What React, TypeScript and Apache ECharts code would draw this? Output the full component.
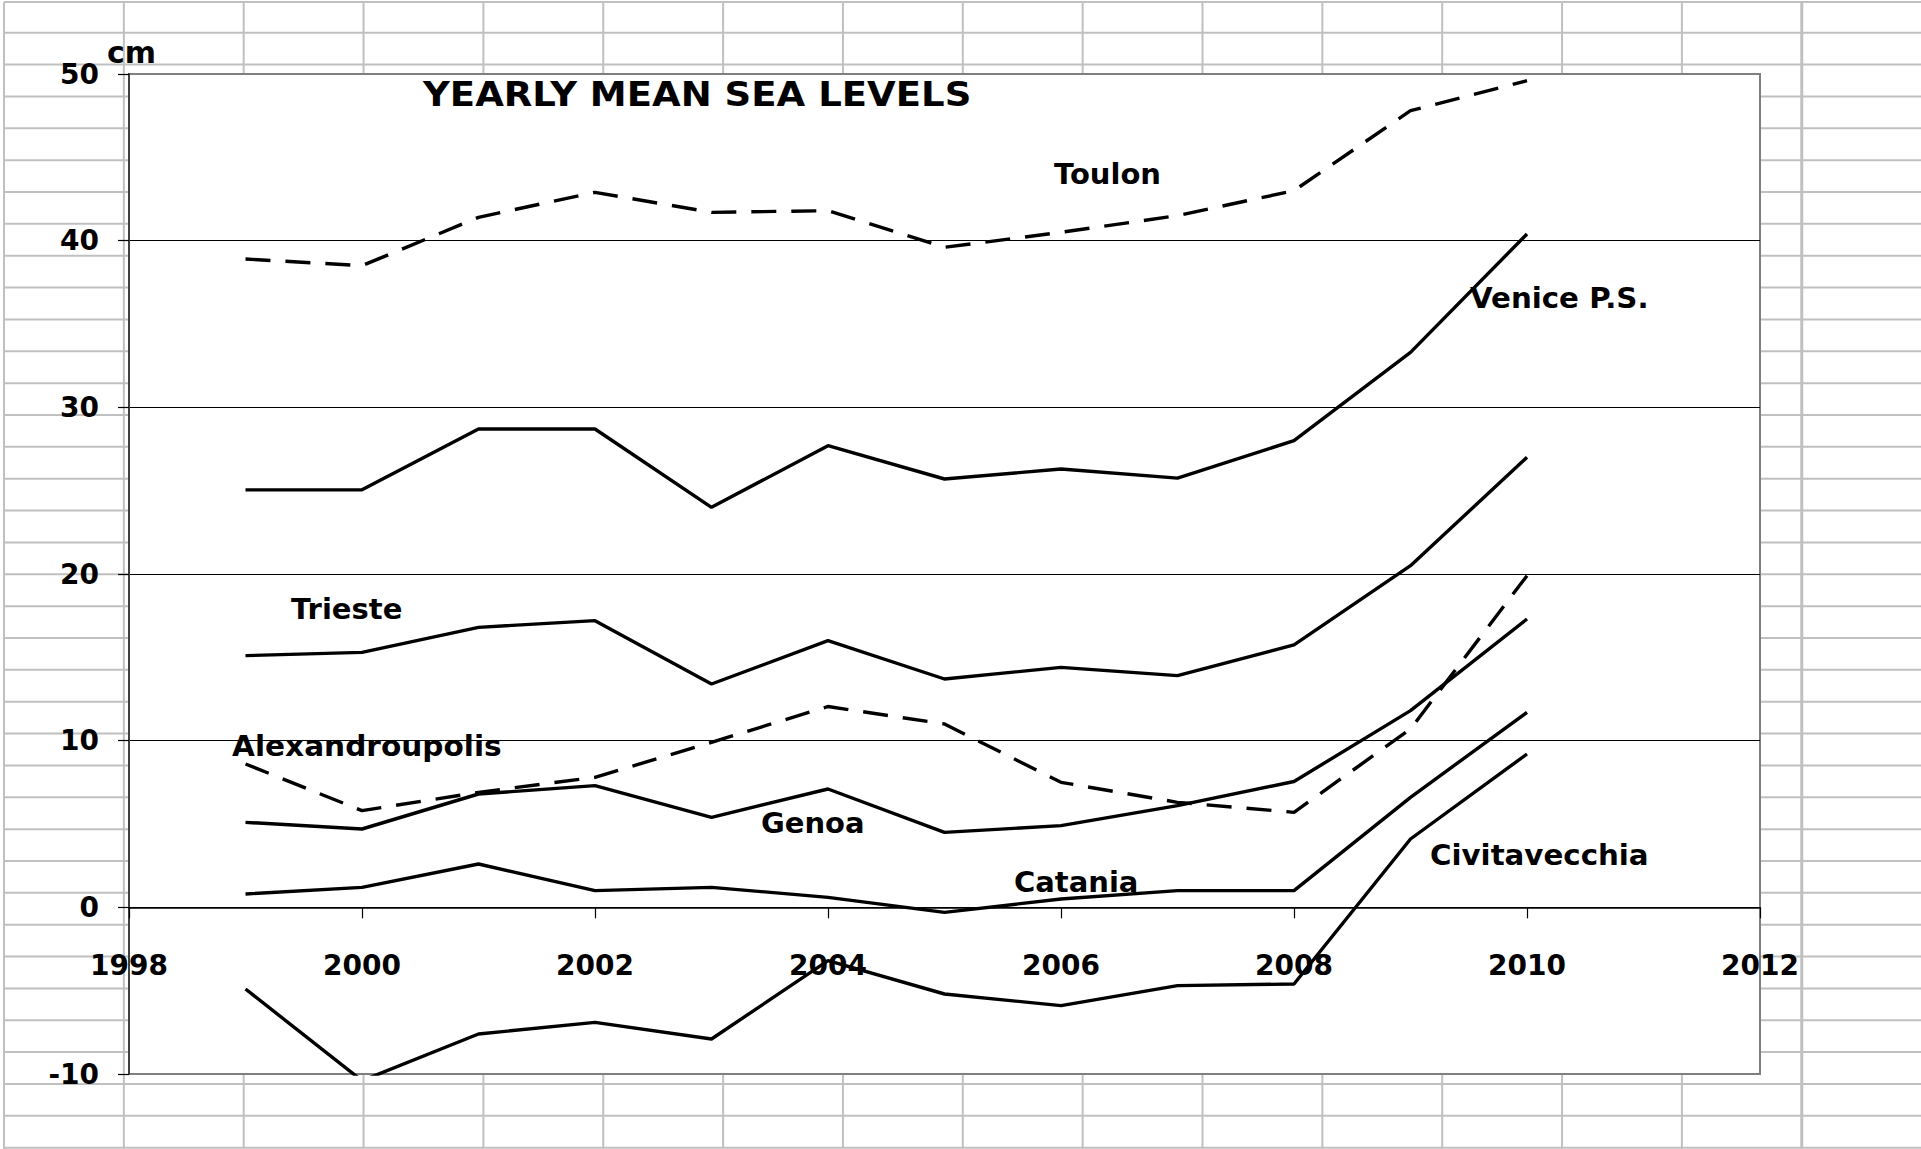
import React, { useEffect, useRef } from "react";
import * as echarts from "echarts";

// ---- data ----
const years = [1999, 2000, 2001, 2002, 2003, 2004, 2005, 2006, 2007, 2008, 2009, 2010];
const toulon = [38.9, 38.5, 41.4, 42.9, 41.7, 41.8, 39.6, 40.5, 41.5, 43.0, 47.8, 49.6];
const venice = [25.05, 25.05, 28.7, 28.7, 24.0, 27.7, 25.7, 26.3, 25.75, 28.0, 33.3, 40.4];
const trieste = [15.1, 15.3, 16.8, 17.2, 13.4, 16.0, 13.7, 14.4, 13.9, 15.75, 20.5, 27.0];
const alexandroupolis = [8.6, 5.8, 6.9, 7.8, 9.9, 12.05, 11.0, 7.5, 6.3, 5.7, 10.7, 19.9];
const genoa = [5.1, 4.7, 6.8, 7.3, 5.4, 7.1, 4.5, 4.9, 6.1, 7.55, 11.8, 17.3];
const catania = [0.8, 1.2, 2.6, 1.0, 1.2, 0.6, -0.3, 0.5, 1.0, 1.0, 6.6, 11.7];
const civitavecchia = [-4.9, -10.4, -7.6, -6.9, -7.9, -3.2, -5.2, -5.9, -4.7, -4.6, 4.1, 9.2];

const xMin = 1998, xMax = 2012, xStep = 2;
const yMin = -10, yMax = 50, yStep = 10;

const seriesDefs = [
  { name: "Toulon", values: toulon, dashed: true },
  { name: "Venice P.S.", values: venice, dashed: false },
  { name: "Trieste", values: trieste, dashed: false },
  { name: "Alexandroupolis", values: alexandroupolis, dashed: true },
  { name: "Genoa", values: genoa, dashed: false },
  { name: "Catania", values: catania, dashed: false },
  { name: "Civitavecchia", values: civitavecchia, dashed: false },
];

const FONT = "'DejaVu Sans', sans-serif";

const labels = [
  { t: "YEARLY MEAN SEA LEVELS", x: 423, y: 94, size: 34, sx: 1.09 },
  { t: "cm", x: 107, y: 52, size: 30, sx: 1 },
  { t: "Toulon", x: 1054, y: 174, size: 29, sx: 1 },
  { t: "Venice P.S.", x: 1470, y: 298, size: 29, sx: 1.01 },
  { t: "Trieste", x: 291, y: 609, size: 29, sx: 1 },
  { t: "Alexandroupolis", x: 232, y: 746, size: 29, sx: 1.02 },
  { t: "Genoa", x: 761, y: 823, size: 29, sx: 1 },
  { t: "Catania", x: 1014, y: 882, size: 29, sx: 1 },
  { t: "Civitavecchia", x: 1430, y: 855, size: 29, sx: 1.01 },
];

const GRID = { left: 129, top: 74, right: 161, bottom: 75 };
const H = 1149;

function sheetLines() {
  const els: any[] = [];
  const W = 1921;
  const hs = [2];
  for (let k = 0; k <= 35; k++) hs.push(32.7 + 31.857 * k);
  hs.forEach((y) =>
    els.push({
      type: "line",
      silent: true,
      z: -10,
      shape: { x1: 4, y1: y, x2: W, y2: y },
      style: { stroke: "#c0c0c0", lineWidth: 2 },
    })
  );
  for (let k = 0; k <= 15; k++) {
    const x = 4 + 119.85 * k;
    els.push({
      type: "line",
      silent: true,
      z: -10,
      shape: { x1: x, y1: 2, x2: x, y2: H },
      style: { stroke: "#c0c0c0", lineWidth: k === 15 ? 3 : 2 },
    });
  }
  return els;
}

export default function App() {
  const ref = useRef<HTMLDivElement>(null);
  useEffect(() => {
    const chart = echarts.init(ref.current!, null, { renderer: "svg" });
    const splitColors = [];
    for (let v = yMin; v <= yMax; v += yStep) {
      splitColors.push(v === yMin || v === yMax ? "#7f7f7f" : "#000000");
    }
    const gridHeight = H - GRID.top - GRID.bottom;
    // place the x axis at value 0 of the y axis
    const zeroOffset = -((0 - yMin) / (yMax - yMin)) * gridHeight;
    const option: any = {
      animation: false,
      backgroundColor: "transparent",
      grid: {
        show: true,
        ...GRID,
        backgroundColor: "#ffffff",
        borderColor: "#7f7f7f",
        borderWidth: 2,
        z: 0,
      },
      xAxis: {
        type: "value",
        min: xMin,
        max: xMax,
        interval: xStep,
        position: "bottom",
        offset: zeroOffset,
        axisLine: { show: true, onZero: false, lineStyle: { color: "#000", width: 1.5 } },
        axisTick: { show: true, length: 11, lineStyle: { color: "#000", width: 1.2 } },
        axisLabel: {
          margin: 44,
          color: "#000",
          fontFamily: FONT,
          fontWeight: "bold",
          fontSize: 28,
          formatter: (v: number) => String(v),
        },
        splitLine: { show: false },
      },
      yAxis: {
        type: "value",
        min: yMin,
        max: yMax,
        interval: yStep,
        axisLine: { show: true, onZero: false, lineStyle: { color: "#404040", width: 2 } },
        axisTick: { show: true, length: 11, lineStyle: { color: "#000", width: 1.2 } },
        axisLabel: {
          margin: 30,
          color: "#000",
          fontFamily: FONT,
          fontWeight: "bold",
          fontSize: 28,
        },
        splitLine: { show: true, lineStyle: { color: splitColors, width: 1.2 } },
      },
      series: seriesDefs.map((s) => ({
        name: s.name,
        type: "line",
        symbol: "none",
        clip: true,
        data: years.map((yr, i) => [yr, s.values[i]]),
        lineStyle: {
          color: "#000",
          width: 3.4,
          type: s.dashed ? [25, 15] : "solid",
          cap: "butt",
        },
        z: 3,
      })),
      graphic: [
        ...sheetLines(),
        ...labels.map((l) => ({
          type: "text",
          x: l.x,
          y: l.y,
          scaleX: l.sx,
          z: 100,
          silent: true,
          style: {
            text: l.t,
            fill: "#000",
            font: `bold ${l.size}px ${FONT}`,
            textAlign: "left",
            textVerticalAlign: "middle",
            verticalAlign: "middle",
          },
        })),
      ],
    };
    chart.setOption(option);
    return () => chart.dispose();
  }, []);
  return (
    <div
      ref={ref}
      style={{ position: "fixed", left: 0, top: 0, width: 1921, height: H, background: "#fff" }}
    />
  );
}
